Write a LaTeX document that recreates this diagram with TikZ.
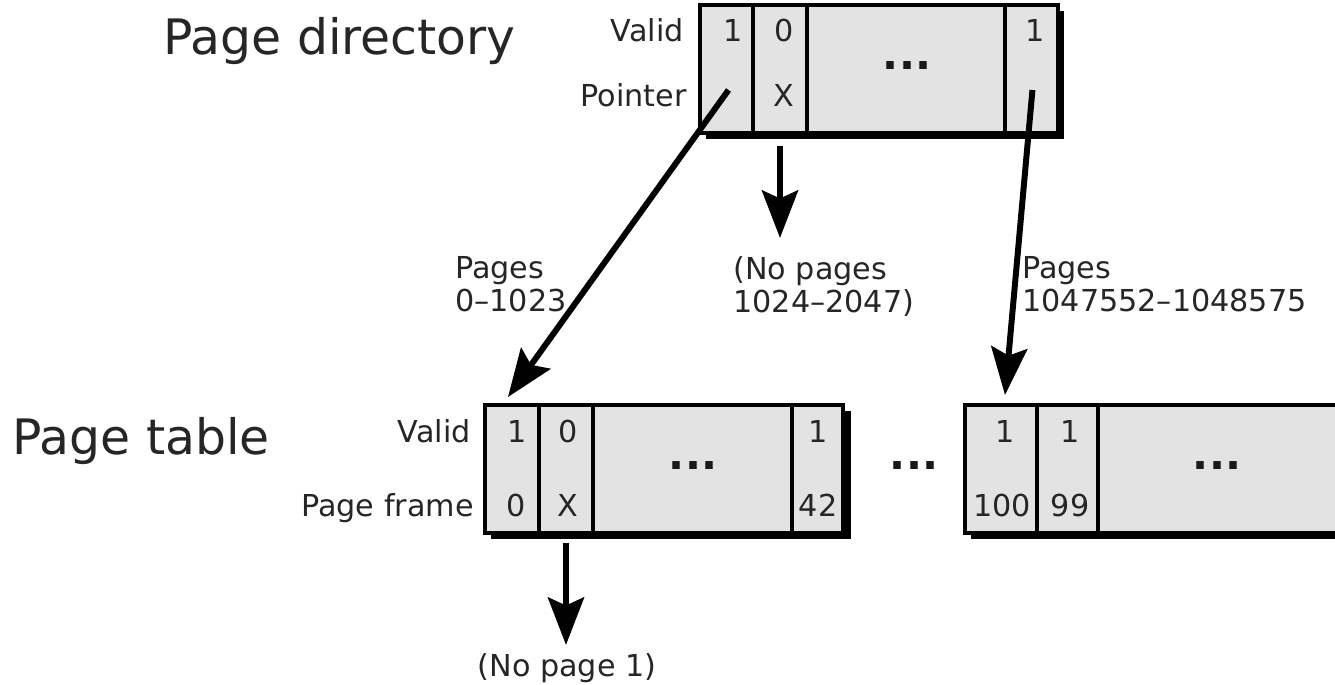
\documentclass[tikz,border=0pt]{standalone}
\usepackage{fontspec}
\setmainfont{DejaVu Sans}
\usetikzlibrary{arrows.meta,positioning}

\begin{document}
\begin{tikzpicture}[x=0.02cm, y=-0.02cm,
    cell/.style={draw=black, line width=2pt, fill=black!11, anchor=north west,
        minimum height=2.56cm, inner sep=0pt, outer sep=0pt},
    shadow/.style={fill=black},
    entry/.style={font=\fontsize{17.2}{20}\selectfont, text=black!85, anchor=base, inner sep=0pt},
    side/.style={font=\fontsize{17.2}{20}\selectfont, text=black!85, anchor=base east, inner sep=0pt},
    title/.style={font=\fontsize{27.8}{33}\selectfont, text=black!85, anchor=base west, inner sep=0pt},
    dots/.style={font=\fontsize{24}{29}\selectfont\bfseries, text=black!90, anchor=base, inner sep=0pt},
    ptr/.style={line width=3.4pt, -{Stealth[length=0.95cm, width=0.72cm, inset=0.16cm]}},
    note/.style={font=\fontsize{17.2}{19}\selectfont, text=black!85, align=left, inner sep=0pt}]

\useasboundingbox (0,0) rectangle (1335,685);
\clip (0,0) rectangle (1335,685);

% Titles
\node[title] (dirtitle) at (163,55) {Page directory};
\node[title] (tabtitle) at (12,455) {Page table};

% Page directory
\fill[shadow] (706,11) rectangle (1064,139);
\node[cell, minimum width=1.06cm] (d1) at (700,5) {};
\node[cell, minimum width=1.08cm, right=0pt of d1] (d2) {};
\node[cell, minimum width=3.96cm, right=0pt of d2] (d3) {};
\node[cell, minimum width=1.06cm, right=0pt of d3] (d4) {};

\node[side] (dvalid) at (684,42) {Valid};
\node[side] (dptr) at (687,107) {Pointer};
\node[entry] (dv1) at (733,42) {1};
\node[entry] (dv2) at (784,42) {0};
\node[entry] (dv4) at (1035,42) {1};
\node[entry] (dp2) at (784,107) {X};
\node[dots] (ddots) at (907,70) {...};

% Page tables
\fill[shadow] (491,411) rectangle (851,539);
\node[cell, minimum width=1.08cm] (t1) at (485,405) {};
\node[cell, minimum width=1.08cm, right=0pt of t1] (t2) {};
\node[cell, minimum width=3.98cm, right=0pt of t2] (t3) {};
\node[cell, minimum width=1.02cm, right=0pt of t3] (t4) {};

\fill[shadow] (971,411) rectangle (1360,539);
\node[cell, minimum width=1.44cm] (u1) at (965,405) {};
\node[cell, minimum width=1.22cm, right=0pt of u1] (u2) {};
\node[cell, minimum width=5.20cm, right=0pt of u2] (u3) {};

\node[side] (tvalid) at (471,443) {Valid};
\node[side] (tframe) at (474,517) {Page frame};
\node[entry] (tv1) at (517,443) {1};
\node[entry] (tv2) at (568,443) {0};
\node[entry] (tv4) at (818,443) {1};
\node[entry] (tf1) at (516,517) {0};
\node[entry] (tf2) at (568,517) {X};
\node[entry] (tf4) at (818,517) {42};
\node[dots] (tdots) at (693,470) {...};

\node[dots] (gapdots) at (914,470) {...};

\node[entry] (uv1) at (1005,443) {1};
\node[entry] (uv2) at (1070,443) {1};
\node[entry] (uf1) at (1002,517) {100};
\node[entry] (uf2) at (1070,517) {99};
\node[dots] (udots) at (1217,470) {...};

% Pointers
\draw[ptr] ([shift={(2,21)}]d1.center) -- ([shift={(-4,-8)}]t1.north);
\draw[ptr] ([shift={(0,13)}]d2.south) -- ([shift={(0,105)}]d2.south);
\draw[ptr] ([shift={(1,21)}]d4.center) -- ([shift={(4,-10)}]u1.north);
\draw[ptr] ([shift={(0,10)}]t2.south) -- ([shift={(0,112)}]t2.south);

% Notes
\node[note, anchor=north west] (n1) at (455,256) {Pages\\0–1023};
\node[note, anchor=north west] (n2) at (733,256) {(No pages\\1024–2047)};
\node[note, anchor=north west] (n3) at (1022,256) {Pages\\1047552–1048575};
\node[note, anchor=north] (n4) at (567,653) {(No page 1)};
\end{tikzpicture}
\end{document}
